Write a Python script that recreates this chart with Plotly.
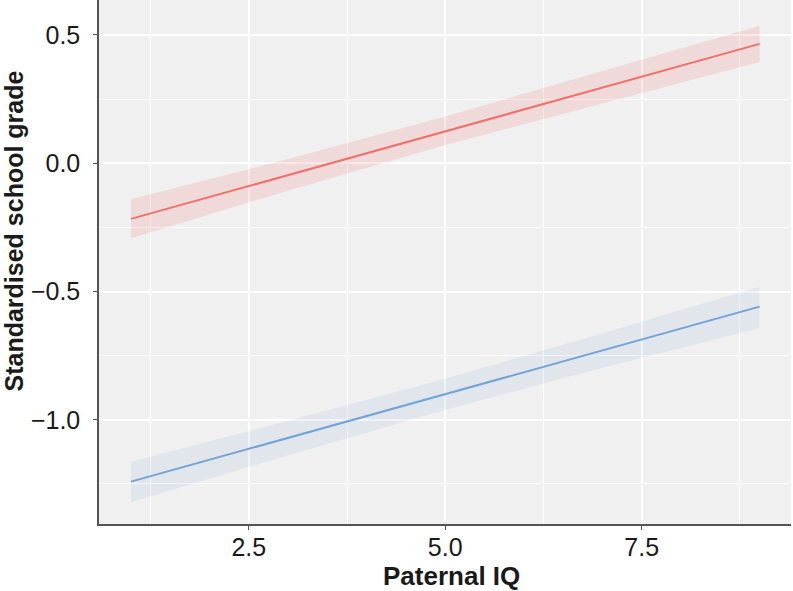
import plotly.graph_objects as go

# Data
x_vals = [1, 3, 5, 7, 9]

high_fit = [-0.217, -0.046, 0.126, 0.295, 0.465]
high_lo = [-0.292, -0.107, 0.071, 0.234, 0.394]
high_hi = [-0.140, 0.016, 0.182, 0.358, 0.536]

low_fit = [-1.241, -1.071, -0.900, -0.730, -0.559]
low_lo = [-1.321, -1.138, -0.962, -0.797, -0.643]
low_hi = [-1.163, -1.004, -0.840, -0.663, -0.481]

x_ticks = [2.5, 5.0, 7.5]
x_tick_text = ["2.5", "5.0", "7.5"]
y_ticks = [-1.0, -0.5, 0.0, 0.5]
y_tick_text = ["\u22121.0", "\u22120.5", "0.0", "0.5"]

x_title = "Paternal IQ"
y_title = "Standardised school grade"

RED = "#F0706A"
BLUE = "#72A4D6"
RED_FILL = "rgba(240,112,106,0.17)"
BLUE_FILL = "rgba(114,164,214,0.12)"

fig = go.Figure()


def add_series(fit, lo, hi, line_color, fill_color):
    fig.add_trace(go.Scatter(x=x_vals, y=lo, mode="lines", line=dict(width=0),
                             hoverinfo="skip", showlegend=False))
    fig.add_trace(go.Scatter(x=x_vals, y=hi, mode="lines", line=dict(width=0),
                             fill="tonexty", fillcolor=fill_color,
                             hoverinfo="skip", showlegend=False))
    fig.add_trace(go.Scatter(x=x_vals, y=fit, mode="lines",
                             line=dict(color=line_color, width=2),
                             showlegend=False))


add_series(high_fit, high_lo, high_hi, RED, RED_FILL)
add_series(low_fit, low_lo, low_hi, BLUE, BLUE_FILL)

font_family = "Liberation Sans, Arial, sans-serif"
FS = 25
TXT = "#1a1a1a"

fig.update_layout(
    width=793, height=591,
    margin=dict(l=99, r=2, t=0, b=67),
    paper_bgcolor="white",
    plot_bgcolor="#F0F0F0",
    font=dict(family=font_family, size=FS, color=TXT),
    showlegend=False,
)

fig.update_xaxes(
    range=[0.594, 9.4],
    tickvals=x_ticks, ticktext=x_tick_text,
    ticks="outside", ticklen=4, tickcolor="#555555", tickwidth=1,
    showline=True, linecolor="#555555", linewidth=1.5,
    showgrid=True, gridcolor="white", gridwidth=1.5,
    minor=dict(tickvals=[1.25, 3.75, 6.25, 8.75], showgrid=True,
               gridcolor="white", gridwidth=0.8, ticks=""),
    zeroline=False, automargin=False,
    tickfont=dict(size=FS, color=TXT),
    ticklabelstandoff=-4,
)

fig.update_yaxes(
    range=[-1.406, 0.636],
    tickvals=y_ticks, ticktext=y_tick_text,
    ticks="outside", ticklen=4, tickcolor="#555555", tickwidth=1,
    showline=True, linecolor="#555555", linewidth=1.5,
    showgrid=True, gridcolor="white", gridwidth=1.5,
    minor=dict(tickvals=[-1.25, -0.75, -0.25, 0.25], showgrid=True,
               gridcolor="white", gridwidth=0.8, ticks=""),
    zeroline=False, automargin=False,
    tickfont=dict(size=FS, color=TXT),
    ticklabelstandoff=8,
)

# Axis titles placed as annotations to match reference positions
fig.add_annotation(
    text="<b>%s</b>" % x_title, xref="paper", yref="paper",
    x=(451 - 99) / 692, y=-(576 - 524) / 524,
    xanchor="center", yanchor="middle", showarrow=False,
    font=dict(size=26, color=TXT, family=font_family),
)
fig.add_annotation(
    text="<b>%s</b>" % y_title, xref="paper", yref="paper",
    x=(13.5 - 99) / 692, y=(524 - 231) / 524,
    xanchor="center", yanchor="middle", showarrow=False, textangle=-90,
    font=dict(size=25, color=TXT, family=font_family),
)

fig.write_html("out.html")
